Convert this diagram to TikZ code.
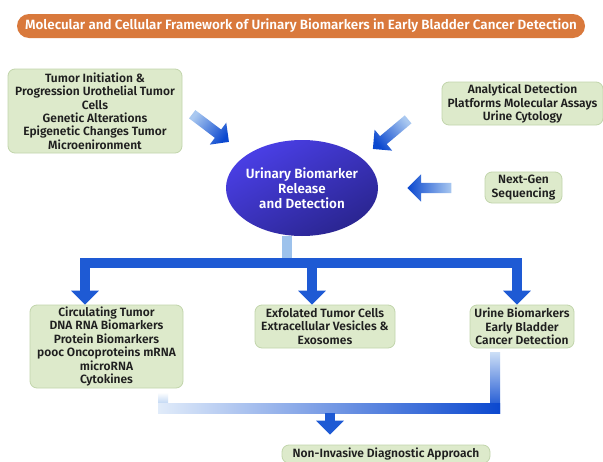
\documentclass[tikz,border=0pt]{standalone}
\usepackage{fontspec}
\setmainfont{Fira Sans}[BoldFont={* SemiBold}]
\usetikzlibrary{shapes.geometric,shapes.arrows,arrows.meta,calc}

\definecolor{titleorange}{HTML}{D9793C}
\definecolor{boxgreen}{HTML}{DDEACB}
\definecolor{boxedge}{HTML}{C2D5AC}
\definecolor{inktext}{HTML}{1F1F1F}
\definecolor{busblue}{HTML}{1E5AD4}
\definecolor{stemblue}{HTML}{9DC2EC}
\definecolor{paleblue}{HTML}{A9C8F0}
\definecolor{deepblue}{HTML}{0B48CF}
\definecolor{violetlight}{HTML}{4A3FE6}
\definecolor{violetdark}{HTML}{2A2590}

\tikzset{
  greenbox/.style={draw=boxedge, line width=0.8pt, fill=boxgreen, rounded corners=7pt,
    align=center, inner sep=1pt, text=inktext,
    font=\fontsize{12}{13.4}\selectfont\bfseries},
  titlepill/.style={fill=titleorange, rounded corners=12pt, text=white,
    minimum width=568pt, minimum height=24pt, inner sep=0pt,
    font=\fontsize{13.4}{15}\selectfont\bfseries},
  hub/.style={ellipse, minimum width=152pt, minimum height=96pt, inner sep=-3pt,
    shading=axis, top color=violetlight, bottom color=violetdark, shading angle=30,
    text=white, align=center, font=\fontsize{13.4}{15}\selectfont\bfseries},
  feedarrow/.style={single arrow, single arrow head extend=8.5pt,
    inner xsep=0pt, inner ysep=5pt, shading=axis, left color=paleblue, right color=deepblue},
  stem/.style={draw=stemblue, line width=10pt},
  bus/.style={draw=busblue, line width=10pt, line join=miter},
  bustip/.style={-{Triangle[width=27pt,length=14pt]}}
}

\begin{document}
\begin{tikzpicture}[x=1pt,y=-1pt]
\useasboundingbox[fill=white] (0,0) rectangle (603,461);

\node[titlepill] (title) at (301,26) {Molecular and Cellular Framework of Urinary Biomarkers in Early Bladder Cancer Detection};

% sources feeding the hub
\node[greenbox, minimum width=174pt, minimum height=84pt] (origin) at (95,111)
  {Tumor Initiation \&\\ Progression Urothelial Tumor\\ Cells\\ Genetic Alterations\\ Epigenetic Changes Tumor\\ Microenironment};
\node[greenbox, minimum width=161pt, minimum height=43pt] (assays) at (522.5,103.5)
  {Analytical Detection\\ Platforms Molecular Assays\\ Urine Cytology};
\node[greenbox, minimum width=77pt, minimum height=31pt] (ngs) at (523.5,187.5)
  {Next-Gen\\ Sequencing};

\node[hub] (release) at (302,188) {Urinary Biomarker\\ Release\\ and Detection};

\node[feedarrow, rotate=-37, minimum height=46pt, shading angle=53] (feedA) at (208.5,126.5) {};
\node[feedarrow, rotate=-140, minimum height=46pt, shading angle=-50] (feedB) at (392.5,132.5) {};
\node[feedarrow, rotate=180, minimum height=44pt, shading angle=-90] (feedC) at (432,188) {};

% biomarker classes
\node[greenbox, minimum width=153pt, minimum height=83pt] (ctdna) at (106.5,346.5)
  {Circulating Tumor\\ DNA RNA Biomarkers\\ Protein Biomarkers\\ pooc Oncoproteins mRNA\\ microRNA\\ Cytokines};
\node[greenbox, minimum width=140pt, minimum height=43pt] (exo) at (325,326.5)
  {Exfolated Tumor Cells\\ Extracellular Vesicles \&\\ Exosomes};
\node[greenbox, minimum width=104pt, minimum height=43pt] (urine) at (522,326.5)
  {Urine Biomarkers\\ Early Bladder\\ Cancer Detection};

\node[greenbox, minimum width=208pt, minimum height=18pt, inner sep=0pt] (nid) at (386,454)
  {Non-Invasive Diagnostic Approach};

% split bus under the hub
\coordinate (split) at (287,262.5);
\draw[stem] (split |- release.south) -- (split);
\draw[bus,bustip] (split) -| ([xshift=-21.5pt]ctdna.north);
\draw[bus,bustip] (split) -| ([xshift=-13pt]exo.north);
\draw[bus,bustip] (split) -| ([xshift=-5pt]urine.north);

% merge bus into the approach
\coordinate (mergeL) at ([xshift=56.5pt]ctdna.south);
\coordinate (mergeR) at ([xshift=-27pt]urine.south);
\coordinate (merge) at (330,408);
\coordinate (nidtop) at ([yshift=10pt]nid.north);
\shade[top color=white, bottom color=paleblue!70!white]
  ($(mergeL)+(-5,4)$) rectangle ($(mergeL |- merge)+(5,-5)$);
\shade[top color=paleblue!60!white, bottom color=deepblue]
  ($(mergeR)+(-5,4)$) rectangle ($(mergeR |- merge)+(5,5)$);
\shade[left color=paleblue!35!white, middle color=busblue, right color=deepblue]
  ($(mergeL |- merge)+(-5,-5)$) rectangle ($(mergeR |- merge)+(5,5)$);
\draw[bus,bustip] ($(merge)+(0,5)$) -- (merge |- nidtop);
\end{tikzpicture}
\end{document}
